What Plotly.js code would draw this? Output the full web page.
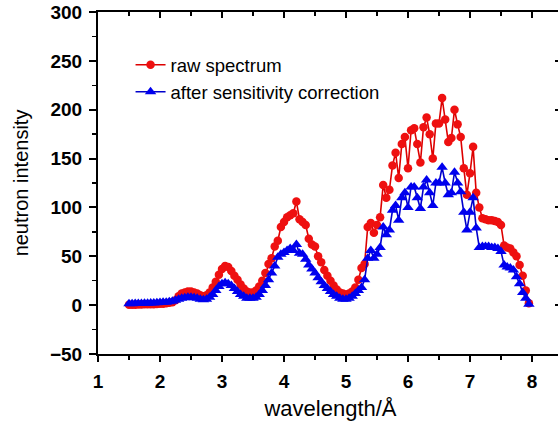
<!DOCTYPE html>
<html>
<head>
<meta charset="utf-8">
<script src="https://cdn.plot.ly/plotly-3.0.1.min.js"></script>
<style>
html,body{margin:0;padding:0;overflow:hidden;background:#fff;width:558px;height:426px;}
#chart{width:568px;height:426px;}
</style>
</head>
<body>
<div id="chart"></div>
<script>
var wavelength = [1.50,1.55,1.60,1.65,1.70,1.75,1.80,1.85,1.90,1.95,
2.00,2.05,2.10,2.15,2.20,2.25,2.30,2.35,2.40,2.45,
2.50,2.55,2.60,2.65,2.70,2.75,2.80,2.85,2.90,2.95,
3.00,3.05,3.10,3.15,3.20,3.25,3.30,3.35,3.40,3.45,
3.50,3.55,3.60,3.65,3.70,3.75,3.80,3.85,3.90,3.95,
4.00,4.05,4.10,4.15,4.20,4.25,4.30,4.35,4.40,4.45,
4.50,4.55,4.60,4.65,4.70,4.75,4.80,4.85,4.90,4.95,
5.00,5.05,5.10,5.15,5.20,5.25,5.30,5.35,5.40,5.45,
5.50,5.55,5.60,5.65,5.70,5.75,5.80,5.85,5.90,5.95,
6.00,6.05,6.10,6.15,6.20,6.25,6.30,6.35,6.40,6.45,
6.50,6.55,6.60,6.65,6.70,6.75,6.80,6.85,6.90,6.95,
7.00,7.05,7.10,7.15,7.20,7.25,7.30,7.35,7.40,7.45,
7.50,7.55,7.60,7.65,7.70,7.75,7.80,7.85,7.90,7.95];

var rawSpectrum = [0.5,0.5,0.5,0.6,0.7,0.8,0.8,1.0,1.0,1.2,
1.5,1.5,2,2.5,3,5,9,12,13,14,
14,13,12,10,9,10,13,18,24,31,
37,40,39,35,30,26,21,17,14,13,
13,15,19,25,33,42,48,60,66,80,
85,90,92,94,106,88,85,82,68,62,
60,50,44,36,30,25,20,16,13,12,
11,12,14,18,26,38,42,80,84,74,
82,90,123,110,118,143,156,130,165,172,
140,179,181,165,146,182,192,175,150,186,
186,212,190,167,171,200,185,172,140,113,
135,162,115,100,89,88,87,87,86,85,
82,61,59,58,54,50,41,30,15,2];

var corrected = [1.5,1.5,1.6,1.7,1.8,2,2,2.2,2.3,2.5,
2.7,3,3,3.5,4,5,6,7,7.5,8,
8,7.5,7,6,5.5,6,8,11,15,19,
22,23,22,20,17,14,11,9,7,7,
7,8,11,15,20,26,33,40,49,52,
54,56,58,56,62,53,52,47,41,37,
33,28,24,20,17,14,11,9,7,6,
6,7,9,12,15,18,26,48,56,48,
52,59,80,72,77,97,102,87,110,115,
100,121,121,110,99,121,128,115,102,125,
125,141,125,113,115,136,125,116,95,77,
95,110,79,59,60,60,60,59,59,58,
55,41,39,38,36,29,22,13,7,1];

var seriesNames = ["raw spectrum", "after sensitivity correction"];
var xTitle = "wavelength/Å";
var yTitle = "neutron intensity";
var xTicks = [1, 2, 3, 4, 5, 6, 7, 8];

var FONT = "Liberation Sans, Arial, sans-serif";

var traces = [
  {x: wavelength, y: rawSpectrum, name: seriesNames[0], type: "scatter", mode: "lines+markers",
   line: {color: "#dd0000", width: 1.6}, marker: {symbol: "circle", size: 8.5, color: "#ee1010"}},
  {x: wavelength, y: corrected, name: seriesNames[1], type: "scatter", mode: "lines+markers",
   line: {color: "#0000cc", width: 1.6}, marker: {symbol: "triangle-up", size: 10, color: "#0000ee"}},
  {x: [], y: [], xaxis: "x2", yaxis: "y2", showlegend: false, hoverinfo: "skip"}
];

var layout = {
  width: 568, height: 426,
  margin: {l: 98, r: 5, t: 12, b: 72},
  paper_bgcolor: "#fff", plot_bgcolor: "#fff",
  showlegend: true,
  legend: {x: 0.07, y: 0.9, xanchor: "left", yanchor: "top", bgcolor: "rgba(0,0,0,0)",
           font: {family: FONT, size: 18.5, color: "#000"}, tracegroupgap: 0, itemwidth: 30},
  xaxis: {range: [1, 8.5], tickvals: xTicks, ticks: "outside", ticklen: 6, tickwidth: 2, tickcolor: "#000",
          ticklabelstandoff: 3,
          minor: {dtick: 0.5, tick0: 1, ticks: "outside", ticklen: 4, tickwidth: 1.5, tickcolor: "#000"},
          showline: true, linewidth: 2, linecolor: "#000", showgrid: false, zeroline: false,
          tickfont: {family: FONT, size: 19, color: "#000", weight: "bold"},
          title: {text: xTitle, font: {family: FONT, size: 22, color: "#000"}, standoff: 10}},
  yaxis: {range: [-50, 300], tick0: 0, dtick: 50, ticks: "outside", ticklen: 7, tickwidth: 2, tickcolor: "#000",
          ticklabelstandoff: 3,
          minor: {dtick: 25, ticks: "outside", ticklen: 4, tickwidth: 1.5, tickcolor: "#000"},
          showline: true, linewidth: 2, linecolor: "#000", showgrid: false, zeroline: false,
          tickfont: {family: FONT, size: 19, color: "#000", weight: "bold"},
          title: {text: yTitle, font: {family: FONT, size: 20, color: "#000"}, standoff: 16}},
  xaxis2: {overlaying: "x", side: "top", anchor: "y2", range: [1, 8.5], tick0: 1, dtick: 1,
           ticks: "inside", ticklen: 6, tickwidth: 2, tickcolor: "#000",
           minor: {dtick: 0.5, tick0: 1, ticks: "inside", ticklen: 4, tickwidth: 1.5, tickcolor: "#000"},
           showticklabels: false, showline: true, linewidth: 2, linecolor: "#000", showgrid: false, zeroline: false},
  yaxis2: {overlaying: "y", side: "right", anchor: "x2", range: [-50, 300], tick0: 0, dtick: 50,
           ticks: "inside", ticklen: 8, tickwidth: 2, tickcolor: "#000",
           minor: {dtick: 25, ticks: "inside", ticklen: 5, tickwidth: 1.5, tickcolor: "#000"},
           showticklabels: false, showline: true, linewidth: 2, linecolor: "#000", showgrid: false, zeroline: false}
};

Plotly.newPlot("chart", traces, layout, {displayModeBar: false, staticPlot: true});
</script>
</body>
</html>
